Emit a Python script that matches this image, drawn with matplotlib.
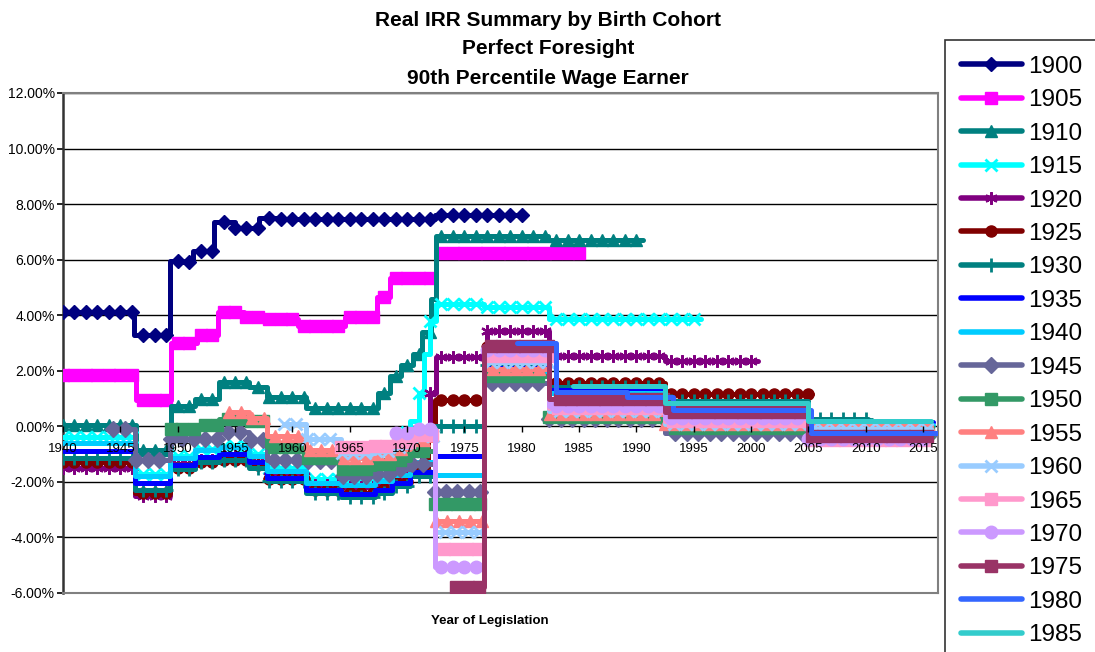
import numpy as np
import matplotlib
matplotlib.use('Agg')
import matplotlib.pyplot as plt
from matplotlib.lines import Line2D

plt.rcParams['font.family'] = ['Liberation Sans', 'DejaVu Sans']

# step data: x = breakpoints (last one is the end year), y = level in each step (%)
c1900_x = [1940, 1946.2, 1949.3, 1950.5, 1951.3, 1953.2, 1955.0, 1957.1, 1959.0, 1972.4, 1980.2]
c1900_y = [4.1, 3.3, 5.95, 5.9, 6.3, 7.35, 7.15, 7.5, 7.45, 7.6]

c1905_x = [1940, 1946.4, 1949.4, 1951.7, 1953.5, 1955.8, 1957.5, 1960.5, 1964.6, 1967.4, 1968.5, 1972.5, 1985.3]
c1905_y = [1.85, 0.95, 3.0, 3.3, 4.1, 3.95, 3.85, 3.6, 3.95, 4.65, 5.35, 6.25]

c1910_x = [1940, 1946.4, 1949.4, 1951.5, 1953.6, 1956.2, 1957.8, 1961.2, 1967.5, 1968.5, 1969.5,
           1970.5, 1971.3, 1972.1, 1972.5, 1982.3, 1990.6]
c1910_y = [0.05, -0.85, 0.75, 1.0, 1.6, 1.4, 1.05, 0.65, 1.2, 1.8, 2.2, 2.6, 3.4, 4.6, 6.85, 6.7]

c1915_x = [1940, 1946.3, 1949.3, 1951.5, 1953.6, 1956.2, 1957.8, 1961.2, 1964.2, 1967.2, 1968.7,
           1969.5, 1970.3, 1971.0, 1971.5, 1972.0, 1972.5, 1976.7, 1982.4, 1995.6]
c1915_y = [-0.4, -1.7, -1.05, -0.8, -0.7, -1.0, -1.5, -1.9, -2.0, -1.8, -1.0, -0.2, 0.2, 1.2,
           2.6, 3.8, 4.4, 4.3, 3.85]

c1920_x = [1940, 1946.3, 1949.3, 1951.5, 1953.6, 1956.2, 1957.8, 1961.2, 1964.2, 1967.2, 1968.7,
           1970.3, 1971.3, 1972.0, 1972.5, 1977.0, 1982.4, 1992.5, 2000.6]
c1920_y = [-1.5, -2.5, -1.35, -1.2, -1.05, -1.3, -1.8, -2.1, -2.2, -2.1, -1.85, -1.5, -0.5, 1.2,
           2.5, 3.45, 2.55, 2.35]

c1925_x = [1940, 1946.3, 1949.3, 1951.5, 1953.6, 1956.2, 1957.8, 1961.2, 1964.2, 1967.2, 1968.7,
           1970.3, 1971.8, 1972.4, 1976.7, 1982.4, 1992.5, 2005.3]
c1925_y = [-1.3, -2.4, -1.5, -1.3, -1.2, -1.4, -1.9, -2.3, -2.4, -2.25, -2.0, -1.6, -0.3, 0.95,
           2.85, 1.55, 1.15]

c1930_x = [1940, 1946.3, 1949.3, 1951.5, 1953.6, 1956.2, 1957.8, 1961.2, 1964.2, 1967.2, 1968.7,
           1970.3, 1972.4, 1976.7, 1982.4, 1992.5, 2005.0, 2010.2]
c1930_y = [-1.15, -2.3, -1.55, -1.3, -1.2, -1.5, -1.95, -2.4, -2.55, -2.4, -2.15, -1.8, 0.0, 2.2,
           1.4, 0.9, 0.25]

c1935_x = [1940, 1946.3, 1949.3, 1951.5, 1953.6, 1956.2, 1957.8, 1961.2, 1964.2, 1967.2, 1968.7,
           1970.3, 1972.4, 1976.7, 1982.4, 1992.5, 2005.0, 2015.9]
c1935_y = [-0.9, -2.05, -1.4, -1.1, -1.0, -1.3, -1.85, -2.3, -2.45, -2.3, -2.05, -1.65, -1.05,
           2.1, 1.3, 0.8, 0.15]

c1940_x = [1940, 1946.3, 1949.3, 1951.5, 1953.6, 1956.2, 1957.8, 1961.2, 1964.2, 1967.2, 1968.7,
           1970.3, 1972.4, 1976.7, 1982.4, 1992.5, 2005.0, 2015.9]
c1940_y = [-0.6, -1.8, -1.15, -0.85, -0.75, -1.05, -1.6, -2.05, -2.1, -1.95, -1.75, -1.3, -1.75,
           2.0, 1.2, 0.7, 0.05]

c1945_x = [1944.4, 1946.3, 1949.3, 1951.5, 1953.6, 1956.2, 1957.8, 1961.2, 1964.2, 1967.2, 1968.7,
           1970.3, 1972.4, 1976.7, 1982.4, 1992.5, 2005.0, 2015.7]
c1945_y = [-0.1, -1.2, -0.45, -0.45, -0.2, -0.5, -1.2, -1.25, -1.8, -1.7, -1.55, -1.35, -2.35,
           1.55, 0.25, -0.25, -0.35]

c1950_x = [1949.4, 1951.5, 1953.6, 1956.2, 1957.8, 1961.2, 1964.2, 1967.2, 1968.7, 1970.3, 1972.4,
           1976.7, 1982.4, 1992.5, 2005.0, 2015.7]
c1950_y = [-0.1, 0.05, 0.25, 0.2, -0.75, -1.15, -1.55, -1.35, -1.2, -0.9, -2.8, 1.8, 0.35, -0.05, -0.2]

c1955_x = [1954.5, 1956.2, 1957.8, 1961.2, 1964.2, 1967.2, 1968.7, 1970.3, 1972.4, 1976.7, 1982.4,
           1992.5, 2005.0, 2015.7]
c1955_y = [0.5, 0.3, -0.35, -0.85, -1.15, -1.0, -0.8, -0.5, -3.4, 2.05, 0.45, 0.1, 0.0]

c1960_x = [1959.3, 1961.2, 1964.2, 1967.2, 1968.7, 1970.3, 1972.4, 1976.7, 1982.4, 1992.5, 2005.0, 2015.7]
c1960_y = [0.1, -0.45, -0.95, -0.9, -0.75, -0.35, -3.8, 2.3, 0.55, 0.1, -0.1]

c1965_x = [1964.2, 1967.2, 1968.7, 1970.3, 1972.4, 1976.7, 1982.4, 1992.5, 2005.0, 2015.7]
c1965_y = [-0.75, -0.7, -0.55, -0.3, -4.4, 2.55, 0.65, 0.2, -0.5]

c1970_x = [1969.0, 1970.3, 1972.4, 1976.7, 1982.4, 1992.5, 2005.0, 2015.7]
c1970_y = [-0.25, -0.1, -5.05, 2.75, 0.75, 0.3, -0.45]

c1975_x = [1974.3, 1976.7, 1982.4, 1992.5, 2005.0, 2015.7]
c1975_y = [-5.8, 2.9, 1.0, 0.5, -0.35]

c1980_x = [1979.6, 1983.0, 1989.2, 1993.2, 2005.2, 2016.3]
c1980_y = [3.0, 1.25, 1.05, 0.6, -0.25]

c1985_x = [1984.5, 1992.5, 2005.0, 2015.7]
c1985_y = [1.45, 0.85, 0.2]

cohorts = ['1900', '1905', '1910', '1915', '1920', '1925', '1930', '1935', '1940',
           '1945', '1950', '1955', '1960', '1965', '1970', '1975', '1980', '1985']
series_x = [c1900_x, c1905_x, c1910_x, c1915_x, c1920_x, c1925_x, c1930_x, c1935_x, c1940_x,
            c1945_x, c1950_x, c1955_x, c1960_x, c1965_x, c1970_x, c1975_x, c1980_x, c1985_x]
series_y = [c1900_y, c1905_y, c1910_y, c1915_y, c1920_y, c1925_y, c1930_y, c1935_y, c1940_y,
            c1945_y, c1950_y, c1955_y, c1960_y, c1965_y, c1970_y, c1975_y, c1980_y, c1985_y]

colors = ['#000080', '#FF00FF', '#008080', '#00FFFF', '#800080', '#800000', '#008080', '#0000FF',
          '#00CCFF', '#666699', '#339966', '#FF8080', '#99CCFF', '#FF99CC', '#CC99FF', '#993366',
          '#3366FF', '#33CCCC']
# marker, size, edge width
markers = [('D', 7, 1), ('s', 8, 1), ('^', 9, 1), ('x', 8, 2), ((6, 2, 0), 9, 1.6), ('o', 8, 1),
           ('+', 10, 2), (None, 0, 0), (None, 0, 0), ('D', 8, 1), ('s', 9, 1), ('^', 9, 1),
           ('x', 8, 2), ('s', 8, 1), ('o', 9, 1), ('s', 9, 1), (None, 0, 0), (None, 0, 0)]

fig = plt.figure(figsize=(10.95, 6.52), dpi=100)
ax = fig.add_axes([63 / 1095, 1 - 593 / 652, (938 - 63) / 1095, 500 / 652])

handles = []
for i, (xs, ys) in enumerate(zip(series_x, series_y)):
    c = colors[i]
    m, ms, mew = markers[i]
    x = np.array(xs, float)
    y = np.array(ys + [ys[-1]], float)
    ax.step(x, y, where='post', color=c, lw=3.6, solid_joinstyle='round',
            solid_capstyle='round', zorder=3 + i * 0.1)
    if m is not None:
        mx = np.arange(x[0], x[-1] + 1e-6, 1.0)
        idx = np.clip(np.searchsorted(x, mx, side='right') - 1, 0, len(ys) - 1)
        my = np.array(ys)[idx]
        ax.plot(mx, my, ls='none', marker=m, ms=ms, mew=mew, color=c, mec=c,
                zorder=3 + i * 0.1 + 0.05)
    handles.append(Line2D([], [], color=c, lw=4, marker=m, ms=ms, mew=mew, mec=c,
                          solid_capstyle='round'))

ax.set_xlim(1940, 2016.3)
ax.set_ylim(-6, 12)
yt = np.arange(-6, 13, 2)
ax.set_yticks(yt)
ax.set_yticklabels(['%.2f%%' % v for v in yt], fontsize=10)
ax.set_xticks([])
ax.yaxis.grid(True, color='black', lw=1)
ax.set_axisbelow(True)
ax.tick_params(axis='y', direction='out', length=4, width=1.2, pad=2)
for s in ['top', 'right', 'bottom']:
    ax.spines[s].set_color('#808080')
    ax.spines[s].set_linewidth(1.5)
ax.spines['left'].set_color('#333333')
ax.spines['left'].set_linewidth(1.8)

# year labels sit on the 0% line, drawn on top of the series
sec = ax.secondary_xaxis(1 / 3)
sec.set_zorder(20)
sec.set_xticks(np.arange(1940, 2016, 5))
sec.tick_params(axis='x', direction='out', length=4, width=1, pad=8, labelsize=9.5, colors='black')
sec.spines['bottom'].set_visible(False)

title_lines = ['Real IRR Summary by Birth Cohort', 'Perfect Foresight', '90th Percentile Wage Earner']
for k, t in enumerate(title_lines):
    fig.text(548 / 1095, 1 - (20 + 29 * k) / 652, t, ha='center', va='center',
             fontsize=15, fontweight='bold')

fig.text(490 / 1095, 1 - 621 / 652, 'Year of Legislation', ha='center', va='center',
         fontsize=9.5, fontweight='bold')

leg = fig.legend(handles, cohorts, loc='upper left', bbox_to_anchor=(945 / 1095, 1 - 40 / 652),
                 borderaxespad=0, frameon=True, fancybox=False, edgecolor='black', fontsize=17.5,
                 handlelength=2.5, handletextpad=0.25, labelspacing=0.47, borderpad=0.65,
                 numpoints=1)
leg.get_frame().set_linewidth(1.2)

fig.savefig('out.png', dpi=100)
